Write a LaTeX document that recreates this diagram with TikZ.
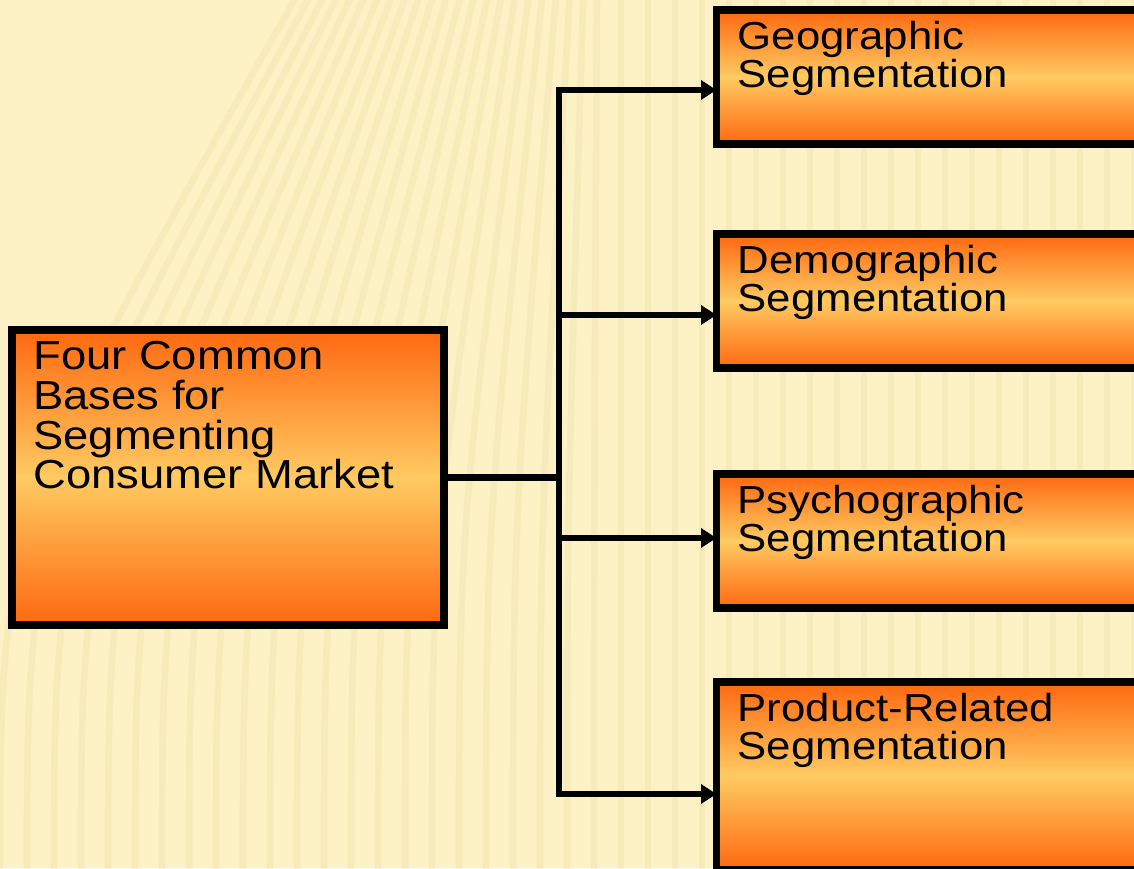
\documentclass[tikz,border=0pt]{standalone}
\usepackage{fontspec}
\setmainfont{Liberation Sans}[FakeStretch=1.12]
\usetikzlibrary{arrows.meta}

\definecolor{segorange}{RGB}{255,104,16}
\definecolor{segyellow}{RGB}{255,202,98}
\definecolor{slidebg}{RGB}{253,241,198}
\definecolor{slidestripe}{RGB}{236,220,160}

\begin{document}
\begin{tikzpicture}[x=0.75pt,y=0.75pt,yscale=-1,xscale=1,
  segbox/.style={rectangle,draw=black,line width=5.6pt,outer sep=0pt,inner sep=0pt,
    top color=segorange,bottom color=segorange,middle color=segyellow},
  segtext/.style={anchor=north west,inner sep=0pt,align=left,
    font=\fontsize{29.3pt}{28.5pt}\selectfont},
  link/.style={line width=4.6pt},
  arrow/.style={link,-{Triangle[length=11.5pt,width=14pt]}}]
\useasboundingbox (0,0) rectangle (1134,868);
\clip (0,0) rectangle (1134,868);

%Background with faint stripes
\fill [slidebg] (0,0) rectangle (1134,868);
\foreach \sx in {0,27,...,1160}
  \draw [slidestripe,line width=5pt,opacity=0.28]
    (\sx,880) .. controls (\sx,520) .. ({\sx+max(0,(600-\sx)*0.5)},-10);

%Shape: Rectangle - main box
\node [segbox,minimum width=324pt,minimum height=221.25pt] (bases) at (228,477.5) {};
\node [segtext,font=\fontsize{30.4pt}{29.8pt}\selectfont] (basestext)
  at ([shift={(21,11)}]bases.north west)
  {Four Common\\Bases for\\Segmenting\\Consumer Market};

%Shape: Rectangle - the four segment boxes
\node [segbox,minimum width=375pt,minimum height=100.5pt] (geo) at (966.5,77) {};
\node [segbox,minimum width=375pt,minimum height=100.5pt] (demo) at (966.5,301) {};
\node [segbox,minimum width=375pt,minimum height=100.5pt] (psycho) at (966.5,541) {};
\node [segbox,minimum width=375pt,minimum height=141pt] (prod) at (966.5,776) {};

% Text Node
\node [segtext] (geotext) at ([shift={(21,11)}]geo.north west) {Geographic\\Segmentation};
\node [segtext] (demotext) at ([shift={(21,11)}]demo.north west) {Demographic\\Segmentation};
\node [segtext] (psychotext) at ([shift={(21,11)}]psycho.north west) {Psychographic\\Segmentation};
\node [segtext] (prodtext) at ([shift={(21,11)}]prod.north west) {Product-Related\\Segmentation};

%Straight Lines - spine and arrows
\coordinate (tap1) at (559,90);
\coordinate (tap2) at (559,315);
\coordinate (tap3) at (559,538);
\coordinate (tap4) at (559,794);
\draw [link] (bases.east) -- (bases.east -| tap1);
\draw [arrow] (tap4) -- (tap1) -- (tap1 -| geo.west);
\draw [arrow] (tap2) -- (tap2 -| demo.west);
\draw [arrow] (tap3) -- (tap3 -| psycho.west);
\draw [arrow] (tap1) -- (tap4) -- (tap4 -| prod.west);

\end{tikzpicture}
\end{document}
